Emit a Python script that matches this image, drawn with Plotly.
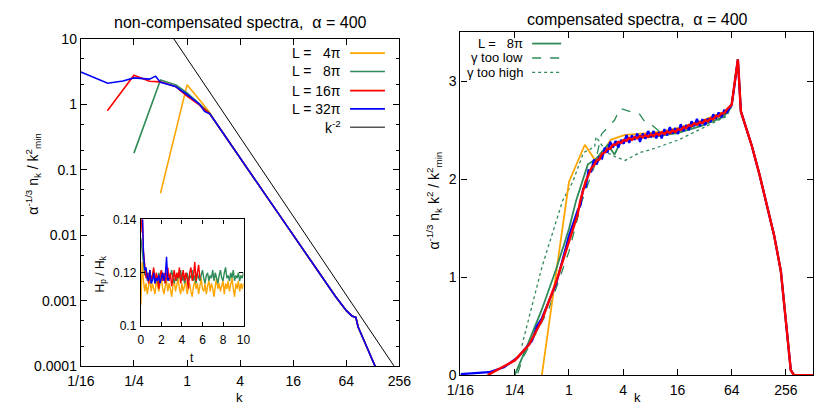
import numpy as np
import plotly.graph_objects as go

# ---------------- left panel: non-compensated spectra ----------------
tail_k = [2, 3, 4, 6, 8, 12, 16, 24, 32, 48, 64, 74, 82, 87, 100, 120, 137, 160]
tail_n = [0.59, 0.27, 0.152, 0.069, 0.039, 0.0177, 0.0101, 0.0046, 0.0026, 0.00118,
          0.00071, 0.00059, 0.00056, 0.00040, 0.00026, 0.000152, 0.0001, 0.00006]

k4_head = [0.5, 1.0, 1.49, 1.8]
n4_head = [0.044, 1.98, 1.04, 0.75]
k8_head = [0.25, 0.5, 0.75, 1.0, 1.4, 1.8]
n8_head = [0.18, 2.34, 1.98, 1.5, 1.0, 0.73]
k16_head = [0.125, 0.25, 0.375, 0.5, 0.75, 1.0, 1.35, 1.8]
n16_head = [0.8, 2.77, 2.25, 2.2, 1.85, 1.33, 1.0, 0.72]
k32_head = [0.0625, 0.126, 0.1875, 0.25, 0.375, 0.44, 0.5, 0.74, 1.0, 1.39, 1.58, 1.8]
n32_head = [3.1, 2.1, 2.27, 2.53, 2.42, 2.69, 2.16, 1.87, 1.41, 1.0, 0.78, 0.72]

kref = [0.707, 224]
nref = [10.0, 1e-4]

# ---------------- inset: H_p / H_k vs t ----------------
dt_inset = 0.125
hp_L4 = [0.108, 0.124, 0.117, 0.113, 0.116, 0.112, 0.115, 0.118, 0.113, 0.116, 0.114, 0.112,
         0.117, 0.115, 0.113, 0.116, 0.118, 0.114, 0.112, 0.115, 0.117, 0.113, 0.116, 0.114,
         0.111, 0.115, 0.117, 0.113, 0.116, 0.118, 0.114, 0.112, 0.116, 0.113, 0.115, 0.117,
         0.112, 0.114, 0.116, 0.113, 0.111, 0.115, 0.117, 0.114, 0.116, 0.112, 0.115, 0.118,
         0.114, 0.113, 0.116, 0.112, 0.115, 0.117, 0.113, 0.116, 0.114, 0.111, 0.115, 0.118,
         0.114, 0.116, 0.113, 0.115, 0.117, 0.112, 0.116, 0.114, 0.117, 0.113, 0.115, 0.118,
         0.114, 0.111, 0.116, 0.114, 0.117, 0.113, 0.116, 0.114, 0.116]
hp_L8 = [0.133, 0.128, 0.122, 0.119, 0.121, 0.117, 0.120, 0.118, 0.116, 0.119, 0.121, 0.117,
         0.119, 0.116, 0.120, 0.118, 0.121, 0.117, 0.119, 0.116, 0.118, 0.120, 0.117, 0.119,
         0.121, 0.118, 0.116, 0.119, 0.117, 0.120, 0.118, 0.121, 0.117, 0.119, 0.116, 0.118,
         0.120, 0.117, 0.119, 0.118, 0.121, 0.117, 0.119, 0.116, 0.120, 0.118, 0.117, 0.119,
         0.121, 0.118, 0.116, 0.119, 0.120, 0.117, 0.119, 0.118, 0.121, 0.117, 0.120, 0.118,
         0.116, 0.119, 0.121, 0.118, 0.117, 0.120, 0.122, 0.118, 0.119, 0.117, 0.120, 0.118,
         0.121, 0.117, 0.119, 0.118, 0.120, 0.117, 0.119, 0.118, 0.120]
hp_L16 = [0.135, 0.145, 0.128, 0.121, 0.118, 0.120, 0.116, 0.121, 0.117, 0.119, 0.122, 0.116,
          0.120, 0.118, 0.114, 0.119, 0.121, 0.117, 0.120, 0.116, 0.119, 0.122, 0.117, 0.120,
          0.115, 0.119, 0.121, 0.117, 0.120, 0.118, 0.122, 0.116, 0.119, 0.121, 0.117, 0.120,
          0.118, 0.114, 0.120, 0.122, 0.117, 0.119, 0.124, 0.117, 0.120, 0.123, 0.118]
hp_L32 = [0.150, 0.145, 0.128, 0.121, 0.122, 0.118, 0.117, 0.121, 0.116, 0.117, 0.120, 0.116,
          0.118, 0.117, 0.119, 0.116, 0.118, 0.120, 0.117, 0.119, 0.126, 0.117, 0.118]

# ---------------- right panel: compensated spectra ----------------
mid_log2k = [0.32, 0.42, 0.52, 0.62, 0.72, 0.82, 0.92, 1.02, 1.12, 1.22, 1.32, 1.42, 1.52, 1.62,
             1.72, 1.82, 1.92, 2.02, 2.12, 2.22, 2.32, 2.42, 2.52, 2.62, 2.72, 2.82, 2.92, 3.02,
             3.12, 3.22, 3.32, 3.42, 3.52, 3.62, 3.72, 3.82, 3.92, 4.02, 4.12, 4.22, 4.32, 4.42,
             4.52, 4.62, 4.72, 4.82, 4.92, 5.02, 5.12, 5.22, 5.32, 5.42, 5.52, 5.62, 5.72, 5.82]
mid_blue = [1.68, 1.73, 1.90, 1.92, 2.09, 2.08, 2.20, 2.15, 2.22, 2.21, 2.32, 2.27, 2.38, 2.32,
            2.39, 2.32, 2.40, 2.36, 2.45, 2.37, 2.445, 2.40, 2.465, 2.38, 2.465, 2.41, 2.49, 2.425,
            2.49, 2.415, 2.48, 2.415, 2.51, 2.445, 2.53, 2.465, 2.52, 2.46, 2.56, 2.49, 2.55, 2.50,
            2.59, 2.54, 2.615, 2.54, 2.61, 2.55, 2.62, 2.58, 2.66, 2.615, 2.68, 2.63, 2.70, 2.68]
mid_red = [1.64, 1.78, 1.87, 1.98, 2.04, 2.11, 2.14, 2.19, 2.20, 2.26, 2.27, 2.31, 2.31, 2.35,
           2.35, 2.38, 2.37, 2.40, 2.39, 2.42, 2.40, 2.43, 2.415, 2.44, 2.425, 2.45, 2.43, 2.455,
           2.44, 2.465, 2.45, 2.475, 2.46, 2.485, 2.47, 2.495, 2.48, 2.51, 2.50, 2.53, 2.52, 2.55,
           2.54, 2.57, 2.555, 2.58, 2.57, 2.60, 2.59, 2.62, 2.61, 2.645, 2.64, 2.67, 2.67, 2.71]

peak_k = [64, 67, 75, 81, 90, 107, 130, 152, 190, 225, 242, 267, 290, 315, 512]
peak_c = [2.76, 2.88, 3.22, 2.69, 2.55, 2.34, 2.05, 1.78, 1.42, 1.06, 0.80, 0.38, 0.05, 0.0, 0.0]

c_red_head_k = [0.125, 0.25, 0.36, 0.5, 0.72, 1.0, 1.17]
c_red_head = [0.0, 0.15, 0.31, 0.56, 0.95, 1.36, 1.58]
c_blue_head_k = [0.0625, 0.13, 0.19, 0.27, 0.39, 0.44, 0.5, 0.72, 1.0, 1.17]
c_blue_head = [0.01, 0.03, 0.08, 0.18, 0.35, 0.5, 0.58, 0.93, 1.42, 1.6]

c_orange_k = [0.5, 1.0, 1.5, 1.93, 2.3, 2.9, 3.6, 4.2, 6, 10, 16, 29, 51, 60]
c_orange = [0.0, 1.97, 2.35, 2.2, 2.24, 2.4, 2.43, 2.45, 2.46, 2.48, 2.52, 2.59, 2.68, 2.73]
c_green_k = [0.25, 0.33, 0.5, 0.72, 1.0, 1.2, 1.62, 1.97, 2.7, 3.2, 3.7, 4.8, 6.1, 10, 16, 29, 51, 60]
c_green = [0.0, 0.26, 0.67, 1.08, 1.49, 1.78, 2.15, 2.2, 2.35, 2.25, 2.37, 2.42, 2.42, 2.44,
           2.47, 2.54, 2.63, 2.70]
c_low_k = [0.27, 0.31, 0.6, 1.0, 1.4, 1.93, 2.3, 3.2, 3.7, 4.8, 6.1, 7.0, 8.1, 10, 14, 29, 51, 60]
c_low = [0.02, 0.18, 0.68, 1.26, 1.78, 2.14, 2.46, 2.6, 2.72, 2.69, 2.66, 2.58, 2.56, 2.49,
         2.47, 2.56, 2.65, 2.71]
c_high_k = [0.3, 0.5, 0.85, 1.1, 1.45, 1.93, 2.0, 2.65, 3.4, 4.2, 6.1, 8.1, 16.5, 37, 56, 64]
c_high = [0.3, 1.1, 1.78, 1.97, 2.27, 2.33, 2.43, 2.27, 2.22, 2.19, 2.27, 2.3, 2.4, 2.56, 2.64,
          2.74]

# ---------------- styling ----------------
W, H = 826, 411
FONT = "Liberation Sans, Arial, Helvetica, sans-serif"
ORANGE, GREEN, RED, BLUE = "#FFA500", "#2E8B57", "#FF0000", "#0000FF"


def px(x):
    return x / W


def py(y):
    return 1 - y / H


fig = go.Figure()

# left main
series_left = [
    (k4_head + tail_k, n4_head + tail_n, ORANGE),
    (k8_head + tail_k, n8_head + tail_n, GREEN),
    (k16_head + tail_k, n16_head + tail_n, RED),
    (k32_head + tail_k, n32_head + tail_n, BLUE),
]
for kk, nn, col in series_left:
    fig.add_trace(go.Scatter(x=kk, y=nn, mode="lines", line=dict(color=col, width=1.6),
                             xaxis="x", yaxis="y", showlegend=False))
fig.add_trace(go.Scatter(x=kref, y=nref, mode="lines", line=dict(color="black", width=1),
                         xaxis="x", yaxis="y", showlegend=False))

# inset
for vals, col in [(hp_L4, ORANGE), (hp_L8, GREEN), (hp_L16, RED), (hp_L32, BLUE)]:
    t = np.arange(len(vals)) * dt_inset
    fig.add_trace(go.Scatter(x=t, y=vals, mode="lines", line=dict(color=col, width=1.4),
                             xaxis="x3", yaxis="y3", showlegend=False))

# right panel
mid_k = list(2.0 ** np.array(mid_log2k))
fig.add_trace(go.Scatter(x=c_high_k + peak_k[1:], y=c_high + peak_c[1:], mode="lines",
                         line=dict(color=GREEN, width=1.3, dash="dot"),
                         xaxis="x2", yaxis="y2", showlegend=False))
fig.add_trace(go.Scatter(x=c_low_k + peak_k, y=c_low + peak_c, mode="lines",
                         line=dict(color=GREEN, width=1.3, dash="dash"),
                         xaxis="x2", yaxis="y2", showlegend=False))
fig.add_trace(go.Scatter(x=c_orange_k + peak_k, y=c_orange + peak_c, mode="lines",
                         line=dict(color=ORANGE, width=1.8),
                         xaxis="x2", yaxis="y2", showlegend=False))
fig.add_trace(go.Scatter(x=c_green_k + peak_k, y=c_green + peak_c, mode="lines",
                         line=dict(color=GREEN, width=1.8),
                         xaxis="x2", yaxis="y2", showlegend=False))
fig.add_trace(go.Scatter(x=c_blue_head_k + mid_k + peak_k, y=c_blue_head + mid_blue + peak_c,
                         mode="lines", line=dict(color=BLUE, width=2.2),
                         xaxis="x2", yaxis="y2", showlegend=False))
fig.add_trace(go.Scatter(x=c_red_head_k + mid_k + peak_k, y=c_red_head + mid_red + peak_c,
                         mode="lines", line=dict(color=RED, width=2.4),
                         xaxis="x2", yaxis="y2", showlegend=False))

# axes
k_ticks = [1 / 16, 1 / 4, 1, 4, 16, 64, 256]
k_text = ["1/16", "1/4", "1", "4", "16", "64", "256"]
n_ticks = [1e-4, 1e-3, 1e-2, 0.1, 1, 10]
n_text = ["0.0001", "0.001", "0.01", "0.1", "1", "10"]
n_minor = [m * 10.0 ** e for e in range(-4, 1) for m in (2, 5)]

common = dict(showline=True, linecolor="black", linewidth=1.2, mirror="allticks",
              ticks="inside", ticklen=6, tickcolor="black", showgrid=False, zeroline=False,
              tickfont=dict(family=FONT, size=14, color="black"))
inset_common = {**common, "ticklen": 4, "tickfont": dict(family=FONT, size=12, color="black")}

fig.update_layout(
    width=W, height=H, margin=dict(l=0, r=0, t=0, b=0),
    paper_bgcolor="white", plot_bgcolor="white", showlegend=False,
    font=dict(family=FONT, color="black"),
    xaxis=dict(domain=[px(69), px(398)], type="log",
               range=[np.log10(1 / 16), np.log10(256)], tickmode="array",
               tickvals=k_ticks, ticktext=k_text, anchor="y", ticklabelstandoff=2, **common),
    yaxis=dict(domain=[py(373), py(32)], type="log", range=[-4, 1], tickmode="array",
               tickvals=n_ticks, ticktext=n_text, anchor="x", ticklabelstandoff=0,
               minor=dict(tickmode="array", tickvals=n_minor, ticks="inside", ticklen=3,
                          tickcolor="black"), **common),
    xaxis2=dict(domain=[px(461), px(825)], type="log",
                range=[np.log10(1 / 16), np.log10(512)], tickmode="array",
                tickvals=k_ticks, ticktext=k_text, anchor="y2", ticklabelstandoff=2, **common),
    yaxis2=dict(domain=[py(382), py(25)], range=[0, 3.5], tickmode="array",
                tickvals=[0, 1, 2, 3], ticktext=["0", "1", "2", "3"], anchor="x2",
                ticklabelstandoff=0, **common),
    xaxis3=dict(domain=[px(131), px(237)], range=[0, 10], tickmode="array",
                tickvals=[0, 2, 4, 6, 8, 10], anchor="y3", ticklabelstandoff=2, **inset_common),
    yaxis3=dict(domain=[py(331), py(220)], range=[0.1, 0.14], tickmode="array",
                tickvals=[0.1, 0.12, 0.14], ticktext=["0.1", "0.12", "0.14"], anchor="x3",
                ticklabelstandoff=1, **inset_common),
)

ann = []
shapes = []


def text(x, y, s, size=14, angle=0, xanchor="center"):
    ann.append(dict(x=px(x), y=py(y), xref="paper", yref="paper", text=s, showarrow=False,
                    textangle=angle, xanchor=xanchor, yanchor="middle",
                    font=dict(family=FONT, size=size, color="black")))


text(234, 15, "non-compensated spectra,  α = 400", size=16)
text(644, 12, "compensated spectra,  α = 400", size=16)
text(233, 405, "k", size=13)
text(644, 405, "k", size=13)
text(20, 172, "α<sup>-1/3</sup> n<sub>k</sub> / k<sup>2</sup><sub>min</sub>", size=14, angle=-90)
text(434, 200, "α<sup>-1/3</sup> n<sub>k</sub> k<sup>2</sup> / k<sup>2</sup><sub>min</sub>",
     size=14, angle=-90)
text(90, 277, "H<sub>p</sub> / H<sub>k</sub>", size=12, angle=-90)
text(184, 364, "t", size=12)

nb = "\u00a0"
left_leg = [("L =" + nb * 3 + "4π", ORANGE, 47),
            ("L =" + nb * 3 + "8π", GREEN, 66),
            ("L = 16π", RED, 86),
            ("L = 32π", BLUE, 105),
            ("k<sup>-2</sup>", "black", 124)]
for s, col, y in left_leg:
    text(340, y, s, size=14, xanchor="right")
    shapes.append(dict(type="line", xref="paper", yref="paper", x0=px(347), x1=px(383),
                       y0=py(y), y1=py(y),
                       line=dict(color=col, width=1 if col == "black" else 1.6)))

right_leg = [("L =" + nb * 3 + "8π", 37, "solid"),
             ("γ too low", 52, "dash"),
             ("γ too high", 67, "dot")]
for s, y, d in right_leg:
    text(528, y, s, size=13, xanchor="right")
    shapes.append(dict(type="line", xref="paper", yref="paper", x0=px(535), x1=px(565),
                       y0=py(y), y1=py(y),
                       line=dict(color=GREEN, width=1.8 if d == "solid" else 1.3, dash=d)))

fig.update_layout(annotations=ann, shapes=shapes)
fig.write_html("out.html")
